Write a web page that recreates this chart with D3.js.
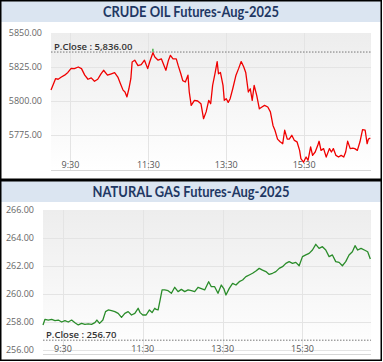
<!DOCTYPE html>
<html lang="en">
<head>
    <meta charset="UTF-8">
    <title>MCX Futures Intraday</title>
    <script src="https://d3js.org/d3.v7.min.js"></script>
    <style>
        body {
            margin: 0;
            background: #fff;
        }
        .tick-label {
            font-family: "Open Sans", sans-serif;
            font-size: 9px;
            fill: #666;
        }
        .time-label {
            font-family: "Open Sans", sans-serif;
            font-size: 9px;
            fill: #555;
        }
        .title {
            font-family: Lato, sans-serif;
            font-weight: 700;
            font-size: 14.5px;
            fill: #1f3864;
        }
        .pclose {
            font-family: "Open Sans", sans-serif;
            font-weight: 600;
            font-size: 9.5px;
            fill: #333;
        }
        .grid {
            stroke: #e4e4e4;
            stroke-width: 1;
        }
    </style>
</head>
<body>
    <svg id="chart" width="383" height="362"></svg>

    <script>
        // crude oil
        const crudeTimes = ["9:00","9:03","9:07","9:11","9:16","9:21","9:26","9:31","9:36","9:42","9:47","9:52","9:57",
            "10:02","10:07","10:12","10:17","10:21","10:27","10:33","10:38","10:43","10:47","10:51","10:54","10:57",
            "11:00","11:03","11:05","11:09","11:14","11:19","11:24","11:29","11:32","11:37","11:40","11:45","11:50","11:55","11:57",
            "12:01","12:04","12:08","12:13","12:16","12:20","12:23","12:27","12:31","12:33","12:36","12:41","12:46","12:51","12:55","12:59",
            "13:03","13:06","13:09","13:13","13:16","13:18","13:21","13:25","13:27","13:30","13:33","13:36","13:40","13:45","13:49","13:53","13:57",
            "14:00","14:04","14:07","14:10","14:13","14:17","14:21","14:25","14:29","14:34","14:38","14:42","14:45","14:49","14:53","14:57",
            "15:00","15:04","15:07","15:11","15:15","15:19","15:23","15:25","15:29","15:33","15:36","15:40","15:43","15:47","15:51","15:53","15:56",
            "16:00","16:04","16:06","16:09","16:12","16:15","16:19","16:23","16:27","16:31","16:34","16:37","16:41","16:45","16:48","16:52","16:56",
            "17:00","17:04","17:07","17:09","17:12"];
        const crudeValues = [5808,5811.5,5816.4,5816,5817.6,5819,5821,5824,5823.8,5825,5823.8,5819,5816,
            5817,5814.5,5816,5820,5822.6,5819,5820,5820.8,5817.6,5812.7,5808,5806.6,5803,
            5809,5816.4,5828.7,5830,5826,5826.7,5830,5823.8,5828.7,5835.5,5832.4,5830,5831,5825,5822.6,
            5830,5833.6,5831,5831,5826,5820,5815,5814,5819,5806.6,5796.8,5800.5,5800,5798,5787,5792,
            5800.5,5798,5811.5,5821,5829,5820,5821,5811.5,5800.5,5801.7,5799,5801.7,5809,5819,5823.8,5829,5825,
            5821,5806.6,5809,5800.5,5811.5,5804,5794.3,5795.6,5796.8,5795.6,5792,5782,5778.5,5772,5770,5768.6,
            5778.5,5772,5772,5774.8,5771,5770,5763.7,5757.6,5755,5758.8,5756.4,5766.2,5760,5762.5,5767.4,5770.4,5763.7,
            5765,5758.8,5761.3,5765,5762.5,5765,5760,5758.8,5760,5758.8,5762.5,5770.4,5765,5765.4,5765,5763.7,5770,
            5779,5778.5,5768.6,5772,5772.8];
        const crudePrevClose = 5836.00;
        const crudeTicks = [5775, 5800, 5825, 5850];

        // natural gas
        const gasTimes = ["9:00","9:03","9:08","9:13","9:18","9:23","9:28","9:33","9:38","9:43","9:48","9:53","9:58",
            "10:03","10:08","10:13","10:18","10:21","10:25","10:30","10:34","10:38","10:43","10:48","10:53","10:58",
            "11:03","11:08","11:13","11:18","11:23","11:26","11:30","11:35","11:40","11:44","11:48","11:50","11:53","11:56","11:59",
            "12:03","12:08","12:13","12:18","12:23","12:28","12:33","12:38","12:43","12:48","12:53",
            "13:03","13:09","13:13","13:18","13:23","13:28","13:32","13:35","13:40","13:45","13:50","13:55",
            "14:00","14:05","14:10","14:15","14:20","14:25","14:30","14:35","14:40","14:45","14:50","14:55",
            "15:00","15:05","15:10","15:15","15:20","15:25","15:30","15:35","15:40","15:45","15:50","15:55",
            "16:00","16:05","16:10","16:15","16:20","16:25","16:30","16:35","16:40","16:45","16:49","16:53","16:58",
            "17:03","17:08","17:12"];
        const gasValues = [257.79,258.19,258.14,258.19,258.10,258.14,258.00,258.10,258.00,258.14,257.95,257.79,257.90,
            257.83,257.86,257.83,257.95,258.14,257.90,258.14,258.74,258.86,258.81,258.74,258.62,258.33,
            258.62,258.74,258.50,258.62,258.98,258.67,258.50,258.50,258.86,258.67,258.98,258.90,258.86,259.57,260.29,
            260.29,260.24,260.05,260.48,260.17,260.33,260.17,260.29,260.24,260.17,260.48,
            260.29,260.88,260.52,260.52,260.05,260.64,260.36,259.93,260.40,260.76,260.64,260.88,
            261.00,261.24,261.36,261.48,261.64,261.83,261.71,261.60,261.40,261.48,261.60,261.83,
            261.95,262.19,262.31,262.19,262.26,262.02,262.67,262.79,262.90,263.14,263.55,263.26,
            263.38,263.14,262.67,262.79,262.31,262.26,262.02,262.31,262.79,263.02,263.45,263.14,263.26,
            263.14,263.02,262.50];
        const gasPrevClose = 256.70;
        const gasTicks = [256, 258, 260, 262, 264, 266];

        const timeTicks = ["9:30", "11:30", "13:30", "15:30"];
        const sessionStart = "9:00", sessionEnd = "17:13";

        const parseTime = d3.timeParse("%H:%M");
        const svg = d3.select("#chart");

        const defs = svg.append("defs");
        const grad = defs.append("linearGradient")
            .attr("id", "plotBg")
            .attr("x1", 0).attr("y1", 0).attr("x2", 0).attr("y2", 1);
        grad.append("stop").attr("offset", "0%").attr("stop-color", "#ededed");
        grad.append("stop").attr("offset", "100%").attr("stop-color", "#ffffff");

        function drawPanel(p) {
            const g = svg.append("g");

            // title bar
            g.append("rect")
                .attr("x", 1).attr("y", p.top + 1)
                .attr("width", 380).attr("height", 21)
                .attr("fill", "#dbe5f1");
            g.append("text")
                .attr("class", "title")
                .attr("x", 191).attr("y", p.top + 17)
                .attr("text-anchor", "middle")
                .attr("textLength", p.titleWidth)
                .attr("lengthAdjust", "spacingAndGlyphs")
                .text(p.title);

            const x = d3.scaleTime()
                .domain([parseTime(sessionStart), parseTime(sessionEnd)])
                .range([p.left, 371]);
            const y = d3.scaleLinear()
                .domain(p.domain)
                .range(p.range);

            const plotTop = y(p.domain[1]);
            g.append("rect")
                .attr("x", p.left).attr("y", plotTop)
                .attr("width", 371 - p.left).attr("height", p.bottom - plotTop)
                .attr("fill", "url(#plotBg)");

            // grid
            g.selectAll(".hgrid")
                .data(p.ticks.slice(0, -1))
                .enter().append("line")
                .attr("class", "grid")
                .attr("x1", p.left).attr("x2", 371)
                .attr("y1", d => y(d) + 0.5).attr("y2", d => y(d) + 0.5);
            g.selectAll(".vgrid")
                .data(timeTicks)
                .enter().append("line")
                .attr("class", "grid")
                .attr("x1", d => Math.round(x(parseTime(d))) + 0.5)
                .attr("x2", d => Math.round(x(parseTime(d))) + 0.5)
                .attr("y1", plotTop).attr("y2", p.bottom);
            g.append("line")
                .attr("x1", p.left).attr("x2", 371)
                .attr("y1", p.bottom + 0.5).attr("y2", p.bottom + 0.5)
                .attr("stroke", "#d6d6d6");

            // y labels
            g.selectAll(".ylab")
                .data(p.ticks)
                .enter().append("text")
                .attr("class", "tick-label")
                .attr("x", p.left - 9)
                .attr("y", d => y(d))
                .attr("dy", "0.35em")
                .attr("text-anchor", "end")
                .text(d => d.toFixed(2));

            // time labels
            g.selectAll(".xlab")
                .data(timeTicks)
                .enter().append("text")
                .attr("class", "time-label")
                .attr("x", d => x(parseTime(d)))
                .attr("y", p.bottom - 2)
                .attr("text-anchor", "middle")
                .text(d => d);

            // previous close
            g.append("line")
                .attr("x1", p.left).attr("x2", 371)
                .attr("y1", y(p.prevClose)).attr("y2", y(p.prevClose))
                .attr("stroke", "#777")
                .attr("stroke-width", 1)
                .attr("stroke-dasharray", "1.5,1.5");
            g.append("text")
                .attr("class", "pclose")
                .attr("x", p.left + 3)
                .attr("y", y(p.prevClose) - 2)
                .text("P.Close : " + p.closeFmt(p.prevClose));

            const pts = p.times.map((t, i) => ({ t: parseTime(t), v: p.values[i] }));
            const line = d3.line()
                .x(d => x(d.t))
                .y(d => y(d.v));
            g.append("path")
                .datum(pts)
                .attr("fill", "none")
                .attr("stroke", p.color)
                .attr("stroke-width", 1.3)
                .attr("stroke-linejoin", "round")
                .attr("d", line);

            if (p.markHigh) {
                const hi = pts[d3.maxIndex(pts, d => d.v)];
                g.append("line")
                    .attr("x1", x(hi.t)).attr("x2", x(hi.t))
                    .attr("y1", y(hi.v) - 1).attr("y2", y(hi.v) - 4)
                    .attr("stroke", "#22a022")
                    .attr("stroke-width", 1.2);
            }

            // panel frame
            g.append("rect")
                .attr("x", 0.75).attr("y", p.top + 0.75)
                .attr("width", 380.5).attr("height", p.height - 1.5)
                .attr("fill", "none")
                .attr("stroke", "#000")
                .attr("stroke-width", 1.5);
        }

        drawPanel({
            top: 0, height: 180, left: 51, bottom: 170,
            title: "CRUDE OIL Futures-Aug-2025", titleWidth: 176,
            domain: [5750, 5850], range: [169, 33],
            ticks: crudeTicks,
            times: crudeTimes, values: crudeValues,
            prevClose: crudePrevClose, closeFmt: d3.format(",.2f"),
            color: "#f00000", markHigh: true
        });

        drawPanel({
            top: 180, height: 181, left: 43, bottom: 354,
            title: "NATURAL GAS Futures-Aug-2025", titleWidth: 197,
            domain: [256, 266], range: [350, 210],
            ticks: gasTicks,
            times: gasTimes, values: gasValues,
            prevClose: gasPrevClose, closeFmt: d3.format(".2f"),
            color: "#2a8c2a", markHigh: false
        });
    </script>
</body>
</html>
